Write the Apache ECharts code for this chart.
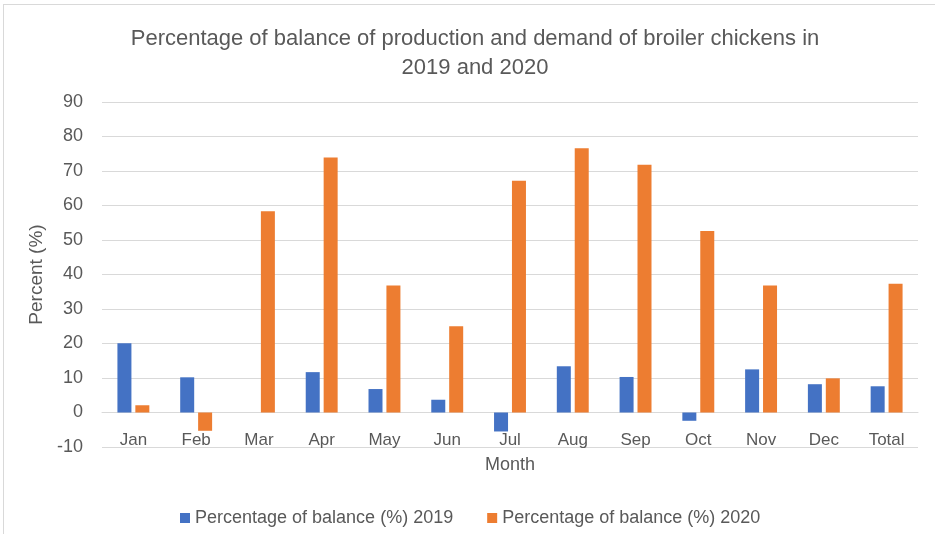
<!DOCTYPE html>
<html>
<head>
<meta charset="utf-8">
<script src="https://cdn.jsdelivr.net/npm/echarts@6/dist/echarts.min.js"></script>
<style>
    html, body { margin: 0; padding: 0; background: #fff; }
    #main { width: 935px; height: 534px; }
</style>
</head>
<body>
<div id="main"></div>
<script>
// data
var months = ['Jan', 'Feb', 'Mar', 'Apr', 'May', 'Jun', 'Jul', 'Aug', 'Sep', 'Oct', 'Nov', 'Dec', 'Total'];
var balance2019 = [20.1, 10.2, 0, 11.7, 6.8, 3.7, -5.5, 13.4, 10.3, -2.4, 12.5, 8.2, 7.6];
var balance2020 = [2.1, -5.3, 58.3, 73.9, 36.8, 25.0, 67.2, 76.6, 71.8, 52.6, 36.8, 9.9, 37.3];
var yTicks = [-10, 90, 10]; // min, max, step

var fontFam = 'Liberation Sans, Arial, sans-serif';
var textColor = '#595959';

var myChart = echarts.init(document.getElementById('main'));

var option = {
    backgroundColor: '#ffffff',
    animation: false,
    title: {
        text: 'Percentage of balance of production and demand of broiler chickens in\n2019 and 2020',
        left: 470,
        top: 19,
        textAlign: 'center',
        textStyle: {
            fontFamily: fontFam,
            fontSize: 22,
            fontWeight: 'normal',
            color: textColor,
            lineHeight: 29
        }
    },
    // frame of the original chart box
    graphic: [
        { type: 'line', shape: { x1: 3.5, y1: 4, x2: 3.5, y2: 534 }, style: { stroke: '#d9d9d9', lineWidth: 1 } },
        { type: 'line', shape: { x1: 3, y1: 4.5, x2: 935, y2: 4.5 }, style: { stroke: '#d9d9d9', lineWidth: 1 } }
    ],
    legend: {
        data: ['Percentage of balance (%) 2019', 'Percentage of balance (%) 2020'],
        left: 175,
        top: 504,
        icon: 'rect',
        itemWidth: 10,
        itemHeight: 10,
        itemGap: 34,
        textStyle: { fontFamily: fontFam, fontSize: 18, color: textColor }
    },
    grid: {
        left: 102,
        right: 17,
        top: 102,
        bottom: 87,
        containLabel: false
    },
    xAxis: {
        type: 'category',
        data: months,
        name: 'Month',
        nameLocation: 'middle',
        nameGap: 44,
        offset: -34.5,
        nameTextStyle: { fontFamily: fontFam, fontSize: 18, color: textColor },
        axisLine: { onZero: false, lineStyle: { color: '#d9d9d9' } },
        axisTick: { show: false },
        axisLabel: { margin: 19, fontFamily: fontFam, fontSize: 17, color: textColor }
    },
    yAxis: {
        type: 'value',
        min: yTicks[0],
        max: yTicks[1],
        interval: yTicks[2],
        name: 'Percent (%)',
        nameLocation: 'middle',
        nameGap: 53,
        nameTextStyle: { fontFamily: fontFam, fontSize: 19, color: textColor },
        axisLine: { show: false },
        axisTick: { show: false },
        axisLabel: { margin: 19, fontFamily: fontFam, fontSize: 18, color: textColor },
        splitLine: { lineStyle: { color: '#d9d9d9', width: 1 } }
    },
    series: [
        {
            name: 'Percentage of balance (%) 2019',
            type: 'bar',
            data: balance2019,
            barWidth: 14,
            barGap: '28%',
            itemStyle: { color: '#4472c4' }
        },
        {
            name: 'Percentage of balance (%) 2020',
            type: 'bar',
            data: balance2020,
            barWidth: 14,
            itemStyle: { color: '#ed7d31' }
        }
    ]
};

myChart.setOption(option);
</script>
</body>
</html>
